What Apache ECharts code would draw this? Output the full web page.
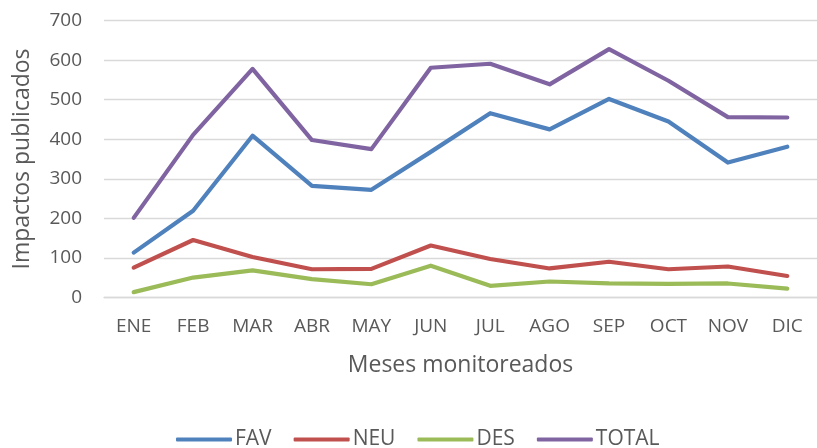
<!DOCTYPE html>
<html><head><meta charset="utf-8">
<script src="https://cdn.jsdelivr.net/npm/echarts@6/dist/echarts.min.js"></script>
<style>html,body{margin:0;padding:0;background:#fff}#c{width:817px;height:448px}</style>
</head><body><div id="c"></div>
<script>
const months = ['ENE','FEB','MAR','ABR','MAY','JUN','JUL','AGO','SEP','OCT','NOV','DIC'];
const fav = [113, 219, 409, 282, 272, 368, 466, 425, 502, 445, 341, 381];
const neu = [75, 145, 102, 71, 72, 131, 97, 73, 90, 71, 78, 54];
const des = [13, 50, 68, 46, 33, 80, 29, 40, 35, 34, 35, 22];
const total = [201, 411, 578, 398, 375, 581, 591, 539, 628, 548, 456, 455];
const yTicks = [0, 700, 100];

const font = 'Open Sans';
const txt = '#595959';
function s(name, data, color) {
  return {name, type:'line', data, showSymbol:false, symbol:'none',
    lineStyle:{width:4.2, color, cap:'round', join:'round'}, itemStyle:{color}};
}
const chart = echarts.init(document.getElementById('c'), null, {renderer:'canvas'});
chart.setOption({
  animation:false,
  grid:{left:104, top:20.7, width:726, height:276.6},
  xAxis:{type:'category', data:months, boundaryGap:true,
    axisLine:{show:true, lineStyle:{color:'#D9D9D9', width:1.3}}, axisTick:{show:false},
    axisLabel:{color:txt, fontFamily:font, fontSize:19, margin:20},
    name:'Meses monitoreados', nameLocation:'middle', nameGap:57,
    nameTextStyle:{color:txt, fontFamily:font, fontSize:23}},
  yAxis:{type:'value', min:yTicks[0], max:yTicks[1], interval:yTicks[2],
    axisLine:{show:false}, axisTick:{show:false},
    splitLine:{lineStyle:{color:'#D9D9D9', width:1.3}},
    axisLabel:{color:txt, fontFamily:font, fontSize:19, margin:22},
    name:'Impactos publicados', nameLocation:'middle', nameGap:70, nameRotate:90,
    nameTextStyle:{color:txt, fontFamily:font, fontSize:23}},
  legend:{top:424, left:171, itemWidth:56, itemHeight:4, itemGap:22, icon:'roundRect',
    textStyle:{color:txt, fontFamily:font, fontSize:21, padding:[0,0,0,-2]}},
  series:[s('FAV',fav,'#4F81BD'), s('NEU',neu,'#C0504D'), s('DES',des,'#9BBB59'), s('TOTAL',total,'#8064A2')]
});
</script></body></html>
